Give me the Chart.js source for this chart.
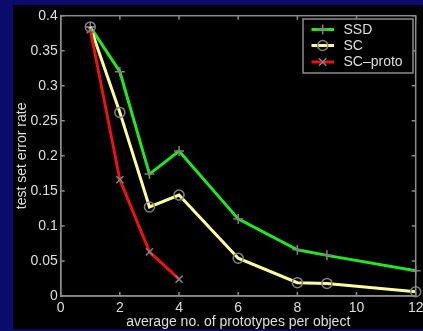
<!DOCTYPE html>
<html>
<head>
<meta charset="utf-8">
<script src="https://cdn.jsdelivr.net/npm/chart.js@4"></script>
<style>
html,body{margin:0;padding:0;background:#0b0b6e;}
canvas{display:block;}
</style>
</head>
<body>
<canvas id="errChart" width="423" height="331"></canvas>
<script>
// values
const xValues = [1, 2, 3, 4, 6, 8, 9, 12];
const ssdValues = [0.384, 0.320, 0.174, 0.207, 0.110, 0.066, 0.058, 0.036];
const scValues = [0.384, 0.262, 0.127, 0.144, 0.054, 0.019, 0.018, 0.006];
const protoX = [1, 2, 3, 4];
const protoValues = [0.380, 0.166, 0.063, 0.024];
const seriesLabels = ['SSD', 'SC', 'SC–proto'];

const toPoints = (xs, ys) => xs.map((x, i) => ({x: x, y: ys[i]}));

Chart.defaults.font.family = "'Liberation Sans', Arial, Helvetica, sans-serif";
const markerGray = '#808080';
const axisGray = '#8c8c8c';
const textGray = '#dedede';

// black figure, matlab-ish box with inward ticks, legend in the corner
const framePlugin = {
	id: 'matlabFrame',
	beforeDraw(chart) {
		const c = chart.ctx;
		c.save();
		c.fillStyle = '#0b0b6e';
		c.fillRect(0, 0, chart.width, chart.height);
		c.fillStyle = '#000';
		c.fillRect(13, 5, chart.width - 13, 324.3);
		c.restore();
	},
	afterDraw(chart) {
		const c = chart.ctx;
		const a = chart.chartArea;
		const sx = chart.scales.x, sy = chart.scales.y;
		c.save();
		c.strokeStyle = axisGray;
		c.lineWidth = 1.5;
		c.strokeRect(a.left, a.top, a.right - a.left, a.bottom - a.top);
		c.beginPath();
		sx.ticks.forEach(t => {
			const px = sx.getPixelForValue(t.value);
			c.moveTo(px, a.bottom); c.lineTo(px, a.bottom - 4);
			c.moveTo(px, a.top); c.lineTo(px, a.top + 4);
		});
		sy.ticks.forEach(t => {
			const py = sy.getPixelForValue(t.value);
			c.moveTo(a.left, py); c.lineTo(a.left + 4, py);
			c.moveTo(a.right, py); c.lineTo(a.right - 4, py);
		});
		c.stroke();

		// legend
		c.fillStyle = '#000';
		c.fillRect(303, 19, 110, 54);
		c.strokeRect(303, 19, 110, 54);
		const rows = [29.5, 45.5, 62];
		chart.data.datasets.forEach((ds, i) => {
			const y = rows[i];
			c.strokeStyle = ds.borderColor;
			c.lineWidth = 3;
			c.beginPath(); c.moveTo(311.5, y); c.lineTo(334, y); c.stroke();
			drawMarker(c, ds.pointStyle, 322.7, y, 5);
			c.fillStyle = textGray;
			c.font = "14px 'Liberation Sans', Arial, sans-serif";
			c.textBaseline = 'middle';
			c.fillText(ds.label, 343.5, y + 0.5);
		});
		c.restore();
	}
};

function drawMarker(c, style, x, y, r) {
	c.save();
	c.strokeStyle = markerGray;
	c.lineWidth = 1.5;
	c.beginPath();
	if (style === 'circle') {
		c.arc(x, y, r, 0, Math.PI * 2);
	} else if (style === 'cross') {
		c.moveTo(x - r, y); c.lineTo(x + r, y);
		c.moveTo(x, y - r); c.lineTo(x, y + r);
	} else {
		const d = r * 0.75;
		c.moveTo(x - d, y - d); c.lineTo(x + d, y + d);
		c.moveTo(x - d, y + d); c.lineTo(x + d, y - d);
	}
	c.stroke();
	c.restore();
}

const ctx = document.getElementById('errChart');
new Chart(ctx, {
	type: 'line',
	data: {
		datasets: [{
			label: seriesLabels[0],
			data: toPoints(xValues, ssdValues),
			borderColor: '#22e622',
			borderWidth: 3,
			pointStyle: 'cross',
			pointRadius: 5,
			pointBorderColor: markerGray,
			pointBorderWidth: 1.5,
			pointBackgroundColor: 'transparent',
			clip: false,
			order: 3
		}, {
			label: seriesLabels[1],
			data: toPoints(xValues, scValues),
			borderColor: '#ffff99',
			borderWidth: 3,
			pointStyle: 'circle',
			pointRadius: 5,
			pointBorderColor: markerGray,
			pointBorderWidth: 1.5,
			pointBackgroundColor: 'transparent',
			clip: false,
			order: 2
		}, {
			label: seriesLabels[2],
			data: toPoints(protoX, protoValues),
			borderColor: '#ee1111',
			borderWidth: 3,
			pointStyle: 'crossRot',
			pointRadius: 5,
			pointBorderColor: markerGray,
			pointBorderWidth: 1.5,
			pointBackgroundColor: 'transparent',
			clip: false,
			order: 1
		}]
	},
	options: {
		responsive: false,
		animation: false,
		layout: {padding: {left: 13, top: 15.7, right: 7.3, bottom: 0}},
		plugins: {legend: {display: false}, tooltip: {enabled: false}},
		scales: {
			x: {
				type: 'linear',
				min: 0, max: 12,
				ticks: {stepSize: 2, color: textGray, font: {size: 14}, padding: 4, maxRotation: 0},
				grid: {display: false, drawTicks: false},
				border: {color: axisGray, width: 1.5},
				title: {display: true, text: 'average no. of prototypes per object', color: textGray, font: {size: 14}, padding: {top: 0, bottom: 0.5}},
				afterFit(s) { s.height = 35; s.paddingLeft = 0; s.paddingRight = 0; }
			},
			y: {
				min: 0, max: 0.4,
				ticks: {stepSize: 0.05, color: textGray, font: {size: 14}, padding: 3, callback: v => String(+v.toFixed(2))},
				grid: {display: false, drawTicks: false},
				border: {color: axisGray, width: 1.5},
				title: {display: true, text: 'test set error rate', color: textGray, font: {size: 14}, padding: {top: 0.6, bottom: 0}},
				afterFit(s) { s.width = 47.7; s.paddingTop = 0; s.paddingBottom = 0; }
			}
		}
	},
	plugins: [framePlugin]
});
</script>
</body>
</html>
